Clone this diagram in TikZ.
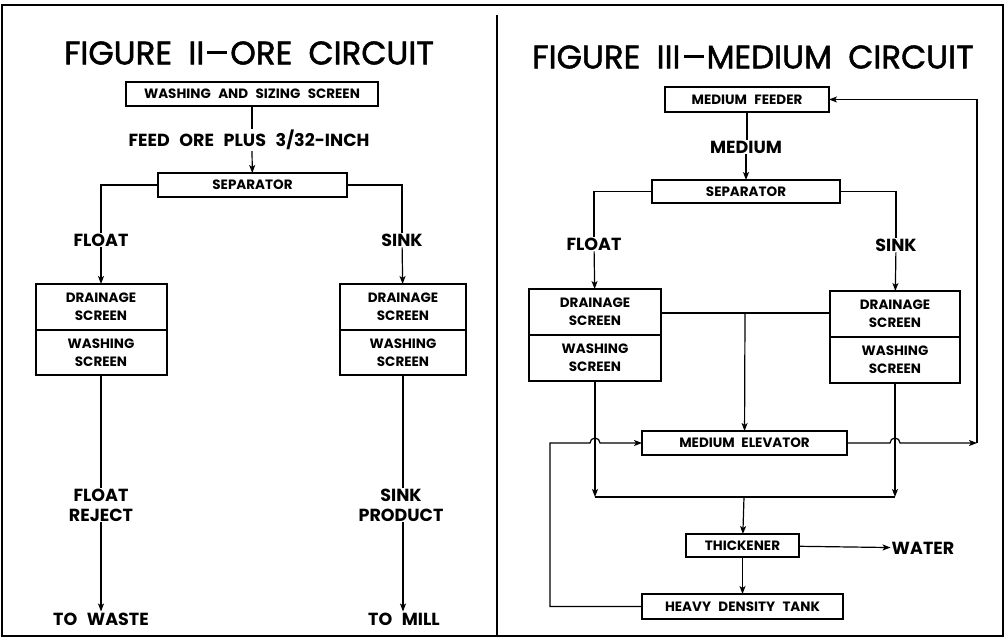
\documentclass[tikz,border=0pt]{standalone}
\usepackage{fontspec}
\setmainfont{Poppins}
\newfontfamily\ttlfont{Poppins}[FakeBold=1.6]
\usetikzlibrary{positioning, arrows.meta, calc}

\newcommand{\ttldash}{\kern3pt\rule[10.5pt]{20pt}{3pt}\kern3pt}
\newcommand{\widesp}{\spaceskip 0.55em plus 0.1em\relax}
\newcommand{\ttlsp}{\spaceskip 0.5em\relax}

\begin{document}
\begin{tikzpicture}[x=1pt, y=-1pt,
    box/.style={draw, line width=2pt, inner sep=0pt, outer sep=0pt, align=center,
        font=\bfseries\fontsize{13.5}{18}\selectfont\widesp},
    lbl/.style={inner sep=1pt, align=center,
        font=\bfseries\fontsize{17.5}{20}\selectfont\widesp},
    ttl/.style={inner sep=0pt, font=\ttlfont\fontsize{32.5}{36}\selectfont\ttlsp},
    line/.style={line width=1.2pt},
    flow/.style={line width=1.2pt, -{Stealth[length=8pt, width=6pt, inset=2pt]}}]
\useasboundingbox (0,0) rectangle (1006,639);
% frame
\draw[line width=2.5pt] (2,5) rectangle (1003,636);
\draw[line width=2.5pt] (497,15) -- (497,636);

% ore circuit
\node[ttl] (ttlA) at (249,53) {FIGURE II\ttldash ORE CIRCUIT};
\node[box, minimum width=252pt, minimum height=24pt] (wss) at (252,94) {WASHING AND SIZING SCREEN};
\node[lbl] (feed) at (249,140) {FEED ORE PLUS 3/32-INCH};
\node[box, minimum width=189pt, minimum height=24pt] (sepA) at (252.5,185) {SEPARATOR};
\node[lbl] (flA) at (101,240) {FLOAT};
\node[lbl] (skA) at (402,240) {SINK};
\node[box, minimum width=131pt, minimum height=46pt] (drA) at (101,307) {DRAINAGE\\SCREEN};
\node[box, minimum width=131pt, minimum height=45pt, below=0pt of drA] (waA) {WASHING\\SCREEN};
\node[box, minimum width=126pt, minimum height=46pt] (drB) at (403,307) {DRAINAGE\\SCREEN};
\node[box, minimum width=126pt, minimum height=45pt, below=0pt of drB] (waB) {WASHING\\SCREEN};
\node[lbl] (rejA) at (101,505) {FLOAT\\REJECT};
\node[lbl] (prodB) at (401,505) {SINK\\PRODUCT};
\node[lbl] (waste) at (101,619) {TO WASTE};
\node[lbl] (mill) at (404,619) {TO MILL};

\draw[line] (wss) -- (wss |- feed.north);
\draw[flow] (wss |- feed.south) -- (sepA);
\draw[line] (sepA.west) -| (flA);
\draw[flow] (flA) -- (drA);
\draw[line] (sepA.east) -| (skA);
\draw[flow] (skA) -- (drB);
\draw[line] (waA) -- (rejA);
\draw[flow] (rejA) -- (waste);
\draw[line] (waB) -- (waB |- prodB.north);
\draw[flow] (waB |- prodB.south) -- (waB |- mill.north);

% medium circuit
\node[ttl] (ttlB) at (753,57) {FIGURE III\ttldash MEDIUM CIRCUIT};
\node[box, minimum width=164pt, minimum height=25pt] (feeder) at (747,99.5) {MEDIUM FEEDER};
\node[lbl] (med) at (746,147) {MEDIUM};
\node[box, minimum width=188pt, minimum height=23pt] (sepB) at (746,191.5) {SEPARATOR};
\node[lbl] (flB) at (594,244) {FLOAT};
\node[lbl] (skB) at (896,245) {SINK};
\node[box, minimum width=132pt, minimum height=46pt] (drC) at (595,312) {DRAINAGE\\SCREEN};
\node[box, minimum width=132pt, minimum height=46pt, below=0pt of drC] (waC) {WASHING\\SCREEN};
\node[box, minimum width=130pt, minimum height=46pt] (drD) at (895,314) {DRAINAGE\\SCREEN};
\node[box, minimum width=130pt, minimum height=46pt, below=0pt of drD] (waD) {WASHING\\SCREEN};
\node[box, minimum width=205pt, minimum height=24pt] (elev) at (744.5,443) {MEDIUM\enspace ELEVATOR};
\node[box, minimum width=113pt, minimum height=23pt] (thick) at (742.5,545.5) {THICKENER};
\node[lbl] (water) at (923,548) {WATER};
\node[box, minimum width=201pt, minimum height=25pt] (tank) at (742.5,606.5) {HEAVY DENSITY TANK};

\coordinate (mid) at (745,313);
\coordinate (jn) at (744,497);
\coordinate (rl) at (550,443);
\coordinate (rc) at (977,443);

\draw[line] (feeder) -- (feeder |- med.north);
\draw[flow] (med) -- (sepB);
\draw[line] (sepB.west) -| (flB);
\draw[flow] (flB) -- (drC);
\draw[line] (sepB.east) -| (skB);
\draw[flow] (skB) -- (drD);
\draw[line] (drC.east |- mid) -- (drD.west |- mid);
\draw[flow] (mid) -- (elev);
\draw[flow] (waC) -- (waC |- jn);
\draw[flow] (waD) -- (waD |- jn);
\draw[line] (waC |- jn) -- (waD |- jn);
\draw[flow] (jn) -- (thick);
\draw[flow] (thick) -- (tank);
\draw[flow] (thick) -- (water);
\draw[flow] (tank.west) -| (rl) -- ($(waC.south |- rl)+(-5,0)$)
    arc[start angle=180, end angle=0, radius=5pt] -- (elev.west);
\draw[flow] (elev.east) -- ($(waD.south |- elev.east)+(-5,0)$)
    arc[start angle=180, end angle=0, radius=5pt] -- (rc);
\draw[flow] (rc) |- (feeder.east);
\end{tikzpicture}
\end{document}
